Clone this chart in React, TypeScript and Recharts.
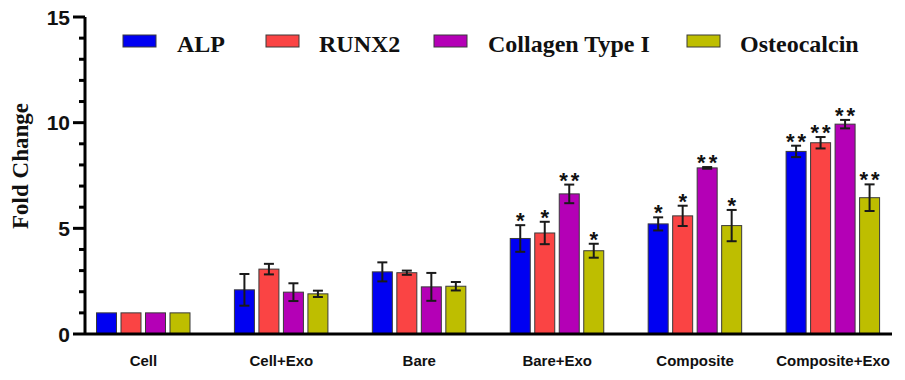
import React from 'react';
import { BarChart, Bar, XAxis, YAxis, ErrorBar } from 'recharts';

const categories = ['Cell', 'Cell+Exo', 'Bare', 'Bare+Exo', 'Composite', 'Composite+Exo'];

const alp = [1, 2.09, 2.94, 4.52, 5.21, 8.64];
const alpErr = [null, 0.75, 0.45, 0.63, 0.31, 0.27];
const alpStars = ['', '', '', '*', '*', '**'];

const runx2 = [1, 3.07, 2.9, 4.78, 5.59, 9.05];
const runx2Err = [null, 0.25, 0.1, 0.53, 0.48, 0.27];
const runx2Stars = ['', '', '', '*', '*', '**'];

const collagen = [1, 1.98, 2.23, 6.63, 7.86, 9.93];
const collagenErr = [null, 0.42, 0.66, 0.44, 0.04, 0.2];
const collagenStars = ['', '', '', '**', '**', '**'];

const osteo = [1, 1.9, 2.26, 3.94, 5.13, 6.45];
const osteoErr = [null, 0.15, 0.2, 0.33, 0.74, 0.63];
const osteoStars = ['', '', '', '*', '*', '**'];

const yTicks = [0, 1, 2, 3, 4, 5, 6, 7, 8, 9, 10, 11, 12, 13, 14, 15];

const series = [
  { key: 'alp', name: 'ALP', color: '#0000F2', values: alp, errors: alpErr, stars: alpStars },
  { key: 'runx2', name: 'RUNX2', color: '#FA4444', values: runx2, errors: runx2Err, stars: runx2Stars },
  { key: 'collagen', name: 'Collagen Type I', color: '#B400B6', values: collagen, errors: collagenErr, stars: collagenStars },
  { key: 'osteo', name: 'Osteocalcin', color: '#BEBE00', values: osteo, errors: osteoErr, stars: osteoStars },
];

const data = categories.map((c, i) => {
  const row: any = { name: c };
  series.forEach((s) => {
    row[s.key] = s.values[i];
    row[s.key + 'Err'] = s.errors[i];
  });
  return row;
});

const legendSwatchX = [123, 266, 434, 687];
const legendTextX = [177, 319, 488, 740];

const makeShape = (s: any) => (props: any) => {
  const { x, y, width, height, index, fill } = props;
  const v = s.values[index];
  const e = s.errors[index] ?? 0;
  const star = s.stars[index];
  const ppu = v ? height / v : 0;
  const top = y - e * ppu;
  return (
    <g>
      <rect x={x} y={y} width={width} height={height} fill={fill} stroke="#3a3a3a" strokeWidth={1} />
      {star ? (
        <text
          x={x + width / 2 + (star.length > 1 ? 1.5 : 0)}
          y={top + 3}
          textAnchor="middle"
          fontFamily="Arial, 'Liberation Sans', sans-serif"
          fontWeight="bold"
          fontSize={22}
          letterSpacing={star.length > 1 ? 3 : 0}
          fill="#111"
        >
          {star}
        </text>
      ) : null}
    </g>
  );
};

const XTick = (props: any) => {
  const { x, y, payload } = props;
  return (
    <text
      x={x}
      y={y + 32}
      textAnchor="middle"
      fontFamily="Arial, 'Liberation Sans', sans-serif"
      fontWeight="bold"
      fontSize={15}
      fill="#111"
    >
      {payload.value}
    </text>
  );
};

const YTick = (props: any) => {
  const { x, y, payload } = props;
  const v = payload.value;
  const major = v % 5 === 0;
  return (
    <g>
      <line x1={x} x2={x - (major ? 12 : 6)} y1={y} y2={y} stroke="#000" strokeWidth={3} />
      {major ? (
        <text
          x={x - 15}
          y={y + 7.5}
          textAnchor="end"
          fontFamily="Arial, 'Liberation Sans', sans-serif"
          fontWeight="bold"
          fontSize={21}
          fill="#111"
        >
          {v}
        </text>
      ) : null}
    </g>
  );
};

export default function App() {
  return (
    <div style={{ position: 'absolute', left: 0, top: 0, width: 905, height: 380, background: '#fff' }}>
      <BarChart
        width={905}
        height={380}
        data={data}
        margin={{ top: 17, right: 13, bottom: 0, left: 0 }}
        barSize={20}
        barGap={4.5}
      >
        <XAxis
          dataKey="name"
          height={46}
          padding={{ left: -10.5, right: -10 }}
          axisLine={{ stroke: '#000', strokeWidth: 3 }}
          tickLine={false}
          tickSize={0}
          tickMargin={0}
          tick={<XTick />}
          interval={0}
        />
        <YAxis
          type="number"
          width={85}
          domain={[0, 15]}
          ticks={yTicks}
          interval={0}
          axisLine={{ stroke: '#000', strokeWidth: 3 }}
          tickLine={false}
          tickSize={0}
          tickMargin={0}
          tick={<YTick />}
        />
        {series.map((s) => (
          <Bar key={s.key} dataKey={s.key} name={s.name} fill={s.color} isAnimationActive={false} shape={makeShape(s)}>
            <ErrorBar dataKey={s.key + 'Err'} width={5} stroke="#1a1a1a" strokeWidth={2} direction="y" />
          </Bar>
        ))}
      </BarChart>
      <svg
        width={905}
        height={380}
        style={{ position: 'absolute', left: 0, top: 0, pointerEvents: 'none' }}
      >
        <text
          x={27.5}
          y={166}
          transform="rotate(-90 27.5 166)"
          textAnchor="middle"
          fontFamily="'Liberation Serif', 'Times New Roman', serif"
          fontWeight="bold"
          fontSize={23}
          fill="#111"
        >
          Fold Change
        </text>
        {series.map((s, i) => (
          <g key={s.key}>
            <rect x={legendSwatchX[i]} y={35} width={33} height={12} fill={s.color} stroke="#3a3a3a" strokeWidth={1} />
            <text
              x={legendTextX[i]}
              y={51.5}
              fontFamily="'Liberation Serif', 'Times New Roman', serif"
              fontWeight="bold"
              fontSize={24}
              fill="#111"
            >
              {s.name}
            </text>
          </g>
        ))}
      </svg>
    </div>
  );
}
